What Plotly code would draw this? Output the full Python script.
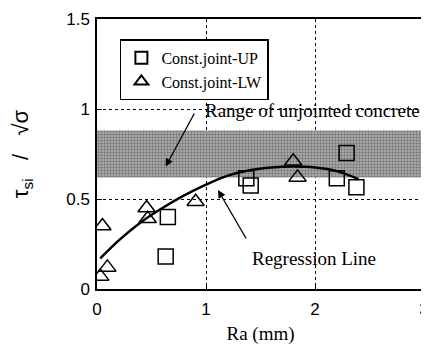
import plotly.graph_objects as go

# Data
up_x = [0.63, 0.65, 1.37, 1.41, 2.20, 2.29, 2.38]
up_y = [0.18, 0.40, 0.615, 0.575, 0.615, 0.755, 0.565]

lw_x = [0.03, 0.05, 0.095, 0.455, 0.465, 0.905, 1.80, 1.84]
lw_y = [0.07, 0.35, 0.12, 0.45, 0.39, 0.485, 0.71, 0.62]

reg_x = [0.03, 0.2, 0.4, 0.6, 0.8, 1.0, 1.2, 1.4, 1.6, 1.8, 2.0, 2.2, 2.4]
reg_y = [0.17, 0.27, 0.37, 0.45, 0.52, 0.58, 0.63, 0.66, 0.675, 0.68, 0.675, 0.655, 0.61]

band_low, band_high = 0.62, 0.88

serif = "Liberation Serif, Times New Roman, serif"
sans = "Liberation Sans, Arial, sans-serif"

fig = go.Figure()

fig.add_trace(go.Scatter(
    x=[0, 3, 3, 0, 0], y=[band_low, band_low, band_high, band_high, band_low],
    mode="lines", line=dict(width=0), fill="toself",
    fillcolor="#9a9a9a",
    fillpattern=dict(shape=".", bgcolor="#b4b4b4", fgcolor="#3c3c3c", size=3, solidity=0.5),
    showlegend=False, hoverinfo="skip"))

fig.add_trace(go.Scatter(
    x=up_x, y=up_y, mode="markers", name="Const.joint-UP",
    marker=dict(symbol="square-open", size=15, color="black", line=dict(width=1.5))))

fig.add_trace(go.Scatter(
    x=lw_x, y=lw_y, mode="markers", name="Const.joint-LW",
    marker=dict(symbol="triangle-up-open", size=15, color="black", line=dict(width=1.5))))

fig.add_trace(go.Scatter(
    x=reg_x, y=reg_y, mode="lines", line=dict(color="black", width=2.5, shape="spline"),
    showlegend=False))

fig.add_annotation(x=0.97, y=0.994, xref="x", yref="y", text="Range of unjointed concrete",
                   showarrow=False, xanchor="left", yanchor="middle",
                   font=dict(family=serif, size=19, color="black"))
fig.add_annotation(x=1.40, y=0.172, xref="x", yref="y", text="Regression Line",
                   showarrow=False, xanchor="left", yanchor="middle",
                   font=dict(family=serif, size=19, color="black"))

fig.add_annotation(x=0.63, y=0.68, ax=0.90, ay=0.983, xref="x", yref="y", axref="x", ayref="y",
                   text="", showarrow=True, arrowhead=2, arrowsize=1.2, arrowwidth=1.3, arrowcolor="black")
fig.add_annotation(x=1.11, y=0.55, ax=1.376, ay=0.272, xref="x", yref="y", axref="x", ayref="y",
                   text="", showarrow=True, arrowhead=2, arrowsize=1.2, arrowwidth=1.3, arrowcolor="black")

fig.update_layout(
    width=429, height=346,
    margin=dict(l=89, r=13, t=11, b=65),
    paper_bgcolor="white", plot_bgcolor="white",
    showlegend=True,
    legend=dict(x=0.07, y=0.925, xanchor="left", yanchor="top",
                bgcolor="white", bordercolor="black", borderwidth=1.5,
                font=dict(family=serif, size=16, color="black"),
                itemsizing="constant", tracegroupgap=0),
)

fig.update_xaxes(range=[0, 3], dtick=1, showline=True, linecolor="black", linewidth=1.5, mirror=True,
                 ticks="inside", ticklen=5, tickcolor="black", automargin=False,
                 showgrid=True, gridcolor="black", gridwidth=1, griddash="dot",
                 zeroline=False, ticklabelstandoff=4,
                 tickfont=dict(family=sans, size=17, color="black"),
                 title=dict(text="Ra (mm)", font=dict(family=serif, size=19, color="black"), standoff=9))
fig.update_yaxes(range=[0, 1.5], dtick=0.5, showline=True, linecolor="black", linewidth=1.5, mirror=True,
                 ticks="inside", ticklen=5, tickcolor="black", automargin=False,
                 showgrid=True, gridcolor="black", gridwidth=1, griddash="dot",
                 zeroline=False, ticklabelstandoff=2,
                 tickfont=dict(family=sans, size=17, color="black"),
                 title=dict(text="τ<sub>si</sub>   /   √σ", font=dict(family=sans, size=22, color="black"), standoff=32))

fig.write_html("out.html")
